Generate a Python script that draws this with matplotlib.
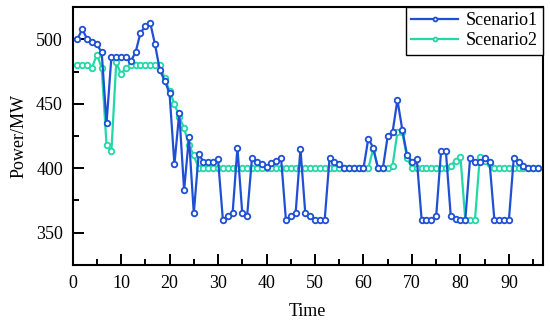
import numpy as np
import matplotlib
matplotlib.use('Agg')
import matplotlib.pyplot as plt
from matplotlib.ticker import MultipleLocator

# time steps 1..96
time = np.arange(1, 97)

scenario1 = [500, 508, 500, 498, 496, 490, 435, 486, 486, 486,
             486, 483, 490, 505, 510, 513, 496, 476, 468, 458,
             403, 443, 383, 424, 365, 411, 405, 405, 405, 407,
             360, 363, 365, 416, 365, 363, 408, 405, 403, 401,
             404, 406, 408, 360, 363, 365, 415, 365, 363, 360,
             360, 360, 408, 405, 403, 400, 400, 400, 400, 400,
             423, 416, 400, 400, 425, 428, 453, 430, 410, 405,
             407, 360, 360, 360, 363, 413, 413, 363, 361, 360,
             360, 408, 405, 405, 408, 405, 360, 360, 360, 360,
             408, 405, 402, 400, 400, 400]

scenario2 = [480, 480, 480, 478, 488, 478, 418, 413, 482, 473,
             478, 480, 480, 480, 480, 480, 480, 480, 470, 460,
             450, 440, 431, 418, 410, 400, 400, 400, 400, 400,
             400, 400, 400, 400, 400, 400, 400, 400, 400, 400,
             400, 400, 400, 400, 400, 400, 400, 400, 400, 400,
             400, 400, 400, 400, 400, 400, 400, 400, 400, 400,
             400, 415, 400, 400, 400, 402, 428, 428, 408, 400,
             400, 400, 400, 400, 400, 400, 400, 402, 406, 409,
             360, 360, 360, 409, 406, 403, 400, 400, 400, 400,
             400, 400, 400, 400, 400, 400]

plt.rcParams['font.family'] = ['Liberation Serif', 'DejaVu Serif']

fig = plt.figure(figsize=(5.5, 3.35), dpi=100)
ax = fig.add_axes([0.132, 0.209, 0.855, 0.770])

ax.plot(time, scenario1, color='#1f50d4', lw=1.6, marker='o', ms=4,
        mfc='white', mec='#1f50d4', mew=1.3, label='Scenario1', zorder=3)
ax.plot(time, scenario2, color='#22d8a8', lw=1.6, marker='o', ms=4,
        mfc='white', mec='#22d8a8', mew=1.3, label='Scenario2', zorder=2)

ax.set_xlim(0, 97)
ax.set_ylim(325, 525)
ax.xaxis.set_major_locator(MultipleLocator(10))
ax.xaxis.set_minor_locator(MultipleLocator(5))
ax.yaxis.set_major_locator(MultipleLocator(50))
ax.yaxis.set_minor_locator(MultipleLocator(25))
ax.tick_params(which='major', direction='in', length=8, width=1.4,
               labelsize=13, pad=7)
ax.tick_params(which='minor', direction='in', length=4.5, width=1.4)
for s in ax.spines.values():
    s.set_linewidth(1.5)

ax.set_xlabel('Time', fontsize=13, labelpad=8)
ax.set_ylabel('Power/MW', fontsize=13, labelpad=6)

leg = ax.legend(loc='upper right', fontsize=13, fancybox=False,
                framealpha=1, edgecolor='black', borderpad=0.3,
                handlelength=2.6, handletextpad=0.4, labelspacing=0.15,
                borderaxespad=0.0, markerscale=0.7)
leg.get_frame().set_linewidth(1.0)

fig.savefig('out.png', dpi=100)
